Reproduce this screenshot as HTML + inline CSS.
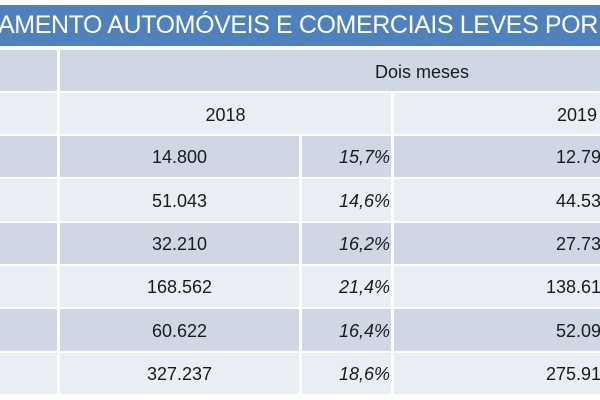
<!DOCTYPE html>
<html><head><style>
body{margin:0;width:600px;height:400px;overflow:hidden;background:#fff;font-family:"Liberation Sans",sans-serif;position:relative}
.t{position:absolute;left:0;top:5px;width:600px;height:41px;background:#4f81bd;color:#fff;font-size:25px;line-height:41px;white-space:nowrap;overflow:hidden;letter-spacing:-0.4px}
.c{position:absolute;box-sizing:border-box;font-size:18px;color:#1a1a1a;line-height:40px;white-space:nowrap;overflow:hidden}
.d{background:#cfd7e5}.l{background:#e9edf4}
i{font-style:italic}
</style></head><body>
<div class="t"><span style="position:absolute;left:-2px">AMENTO AUTOMÓVEIS E COMERCIAIS LEVES POR REGIÃO</span></div>
<div class="c d" style="left:0;top:50px;width:57px;height:41px"></div>
<div class="c d" style="left:60px;top:50px;width:540px;height:41px;line-height:44px"><span style="position:absolute;left:315px">Dois meses</span></div>
<div class="c l" style="left:0;top:93px;width:57px;height:41px"></div>
<div class="c l" style="left:60px;top:93px;width:331px;height:41px;text-align:center;line-height:44px">2018</div>
<div class="c l" style="left:394px;top:93px;width:206px;height:41px;line-height:44px"><span style="position:absolute;left:163px">2019</span></div>
<div id="rows"></div>
<script>
var d=[["14.800","15,7%","12.795"],["51.043","14,6%","44.533"],["32.210","16,2%","27.733"],["168.562","21,4%","138.614"],["60.622","16,4%","52.092"],["327.237","18,6%","275.917"]];
var off=[162,162,162,152,162,152];
var h="",ys=[136,179,223,266,309,353];
for(var i=0;i<6;i++){var y=ys[i],cl=i%2?"l":"d",H=(i<5?ys[i+1]:396)-y-2;
h+='<div class="c '+cl+'" style="left:0;top:'+y+'px;width:57px;height:'+H+'px"></div>';
h+='<div class="c '+cl+'" style="left:60px;top:'+y+'px;width:239px;height:'+H+'px;text-align:center;line-height:'+(H+2)+'px">'+d[i][0]+'</div>';
h+='<div class="c '+cl+'" style="left:302px;top:'+y+'px;width:89px;height:'+H+'px;text-align:right;line-height:'+(H+2)+'px;padding-right:1px"><i>'+d[i][1]+'</i></div>';
h+='<div class="c '+cl+'" style="left:394px;top:'+y+'px;width:206px;height:'+H+'px;line-height:'+(H+2)+'px"><span style="position:absolute;left:'+off[i]+'px">'+d[i][2]+'</span></div>';}
document.getElementById("rows").innerHTML=h;
</script>
</body></html>
